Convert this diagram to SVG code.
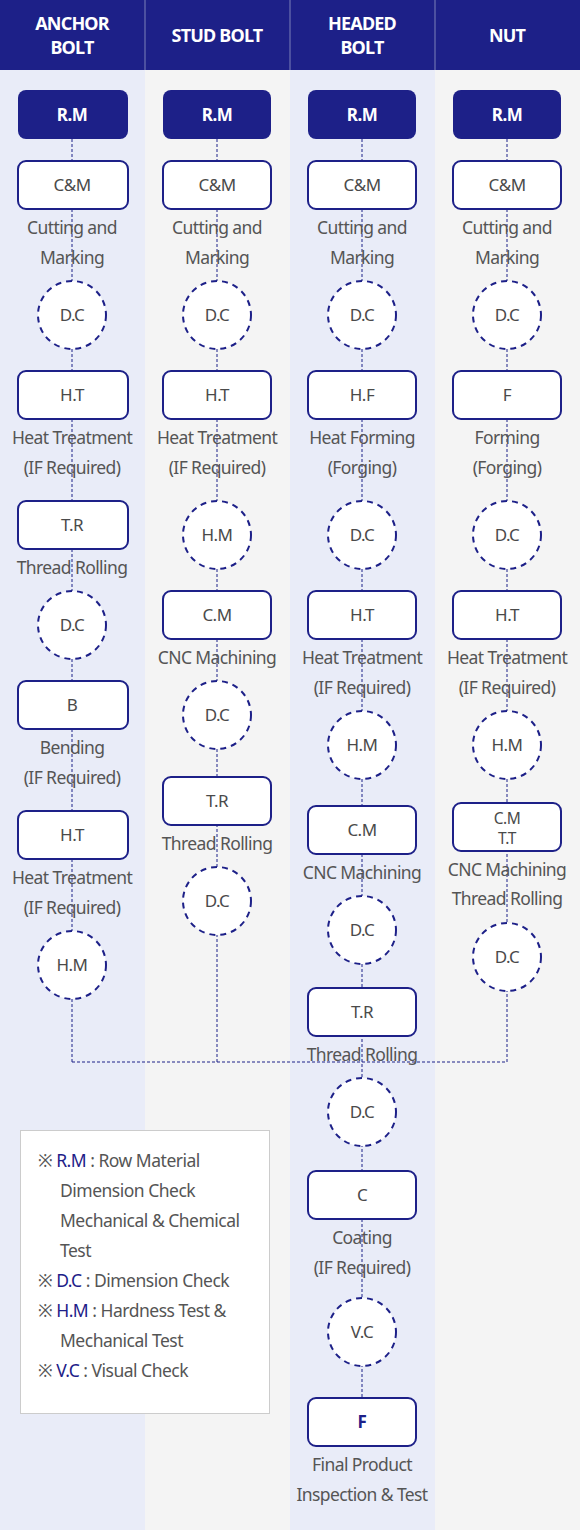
<svg xmlns="http://www.w3.org/2000/svg" width="580" height="1530" viewBox="0 0 580 1530">
<style>
.lab{font-family:"Noto Sans","Liberation Sans",sans-serif;font-size:17.5px;fill:#555;text-anchor:middle;letter-spacing:-0.6px}
.bt{font-family:"Noto Sans","Liberation Sans",sans-serif;font-size:17px;fill:#4a4a4a;text-anchor:middle;letter-spacing:-0.5px}
.bt2{font-family:"Noto Sans","Liberation Sans",sans-serif;font-size:15.5px;fill:#4a4a4a;text-anchor:middle;letter-spacing:-0.5px}
.rmt{font-family:"Noto Sans","Liberation Sans",sans-serif;font-size:17px;font-weight:bold;fill:#fff;text-anchor:middle;letter-spacing:-0.5px}
.ht{font-family:"Noto Sans","Liberation Sans",sans-serif;font-size:18px;font-weight:bold;fill:#fff;text-anchor:middle;letter-spacing:-0.8px}
.box{fill:#fff;stroke:#1d2088;stroke-width:2}
.rm{fill:#1d2088}
.dc{fill:#fff;stroke:#1d2088;stroke-width:2;stroke-dasharray:6 5}
.con{fill:none;stroke:#1d2088;stroke-width:1;stroke-dasharray:3 2}
.lg{font-family:"Noto Sans","Liberation Sans",sans-serif;font-size:17.5px;fill:#555;letter-spacing:-0.5px}
.lk{fill:#1d2088}
</style>
<rect x="0" y="0" width="145" height="1530" fill="#e9ecf8"/>
<rect x="145" y="0" width="145" height="1530" fill="#f4f4f4"/>
<rect x="290" y="0" width="145" height="1530" fill="#e9ecf8"/>
<rect x="435" y="0" width="145" height="1530" fill="#f4f4f4"/>
<g id="header">
<rect x="0" y="0" width="580" height="70" fill="#1d2088"/>
<line x1="145" y1="0" x2="145" y2="70" stroke="#7d80b8" stroke-width="1"/>
<line x1="290" y1="0" x2="290" y2="70" stroke="#7d80b8" stroke-width="1"/>
<line x1="435" y1="0" x2="435" y2="70" stroke="#7d80b8" stroke-width="1"/>
<text class="ht" x="72" y="30">ANCHOR</text>
<text class="ht" x="72" y="54">BOLT</text>
<text class="ht" x="217" y="42">STUD BOLT</text>
<text class="ht" x="362" y="30">HEADED</text>
<text class="ht" x="362" y="54">BOLT</text>
<text class="ht" x="507" y="42">NUT</text>
</g>
<g id="connectors">
<line class="con" x1="72" y1="139" x2="72" y2="1062"/>
<line class="con" x1="217" y1="139" x2="217" y2="1062"/>
<line class="con" x1="362" y1="139" x2="362" y2="1398"/>
<line class="con" x1="507" y1="139" x2="507" y2="1062"/>
<line class="con" x1="72" y1="1062" x2="507" y2="1062"/>
</g>
<!-- column 1 -->
<g id="a-rm"><rect class="rm" x="18" y="90" width="110" height="49" rx="8"/><text class="rmt" x="72" y="121">R.M</text></g>
<g id="a-cm"><rect class="box" x="18" y="161" width="110" height="48" rx="8"/><text class="bt" x="72" y="191">C&amp;M</text><text class="lab" x="72" y="234">Cutting and</text><text class="lab" x="72" y="264">Marking</text></g>
<g id="a-dc1"><circle class="dc" cx="72" cy="315" r="34"/><text class="bt" x="72" y="321">D.C</text></g>
<g id="a-ht1"><rect class="box" x="18" y="371" width="110" height="48" rx="8"/><text class="bt" x="72" y="401">H.T</text><text class="lab" x="72" y="444">Heat Treatment</text><text class="lab" x="72" y="474">(IF Required)</text></g>
<g id="a-tr"><rect class="box" x="18" y="501" width="110" height="48" rx="8"/><text class="bt" x="72" y="531">T.R</text><text class="lab" x="72" y="574">Thread Rolling</text></g>
<g id="a-dc2"><circle class="dc" cx="72" cy="625" r="34"/><text class="bt" x="72" y="631">D.C</text></g>
<g id="a-b"><rect class="box" x="18" y="681" width="110" height="48" rx="8"/><text class="bt" x="72" y="711">B</text><text class="lab" x="72" y="754">Bending</text><text class="lab" x="72" y="784">(IF Required)</text></g>
<g id="a-ht2"><rect class="box" x="18" y="811" width="110" height="48" rx="8"/><text class="bt" x="72" y="841">H.T</text><text class="lab" x="72" y="884">Heat Treatment</text><text class="lab" x="72" y="914">(IF Required)</text></g>
<g id="a-hm"><circle class="dc" cx="72" cy="965" r="34"/><text class="bt" x="72" y="971">H.M</text></g>
<!-- column 2 -->
<g id="s-rm"><rect class="rm" x="163" y="90" width="108" height="49" rx="8"/><text class="rmt" x="217" y="121">R.M</text></g>
<g id="s-cm"><rect class="box" x="163" y="161" width="108" height="48" rx="8"/><text class="bt" x="217" y="191">C&amp;M</text><text class="lab" x="217" y="234">Cutting and</text><text class="lab" x="217" y="264">Marking</text></g>
<g id="s-dc1"><circle class="dc" cx="217" cy="315" r="34"/><text class="bt" x="217" y="321">D.C</text></g>
<g id="s-ht"><rect class="box" x="163" y="371" width="108" height="48" rx="8"/><text class="bt" x="217" y="401">H.T</text><text class="lab" x="217" y="444">Heat Treatment</text><text class="lab" x="217" y="474">(IF Required)</text></g>
<g id="s-hm"><circle class="dc" cx="217" cy="535" r="34"/><text class="bt" x="217" y="541">H.M</text></g>
<g id="s-cmc"><rect class="box" x="163" y="591" width="108" height="48" rx="8"/><text class="bt" x="217" y="621">C.M</text><text class="lab" x="217" y="664">CNC Machining</text></g>
<g id="s-dc2"><circle class="dc" cx="217" cy="715" r="34"/><text class="bt" x="217" y="721">D.C</text></g>
<g id="s-tr"><rect class="box" x="163" y="777" width="108" height="48" rx="8"/><text class="bt" x="217" y="807">T.R</text><text class="lab" x="217" y="850">Thread Rolling</text></g>
<g id="s-dc3"><circle class="dc" cx="217" cy="901" r="34"/><text class="bt" x="217" y="907">D.C</text></g>
<!-- column 3 -->
<g id="h-rm"><rect class="rm" x="308" y="90" width="108" height="49" rx="8"/><text class="rmt" x="362" y="121">R.M</text></g>
<g id="h-cm"><rect class="box" x="308" y="161" width="108" height="48" rx="8"/><text class="bt" x="362" y="191">C&amp;M</text><text class="lab" x="362" y="234">Cutting and</text><text class="lab" x="362" y="264">Marking</text></g>
<g id="h-dc1"><circle class="dc" cx="362" cy="315" r="34"/><text class="bt" x="362" y="321">D.C</text></g>
<g id="h-hf"><rect class="box" x="308" y="371" width="108" height="48" rx="8"/><text class="bt" x="362" y="401">H.F</text><text class="lab" x="362" y="444">Heat Forming</text><text class="lab" x="362" y="474">(Forging)</text></g>
<g id="h-dc2"><circle class="dc" cx="362" cy="535" r="34"/><text class="bt" x="362" y="541">D.C</text></g>
<g id="h-ht"><rect class="box" x="308" y="591" width="108" height="48" rx="8"/><text class="bt" x="362" y="621">H.T</text><text class="lab" x="362" y="664">Heat Treatment</text><text class="lab" x="362" y="694">(IF Required)</text></g>
<g id="h-hm"><circle class="dc" cx="362" cy="745" r="34"/><text class="bt" x="362" y="751">H.M</text></g>
<g id="h-cmc"><rect class="box" x="308" y="806" width="108" height="48" rx="8"/><text class="bt" x="362" y="836">C.M</text><text class="lab" x="362" y="879">CNC Machining</text></g>
<g id="h-dc3"><circle class="dc" cx="362" cy="930" r="34"/><text class="bt" x="362" y="936">D.C</text></g>
<g id="h-tr"><rect class="box" x="308" y="988" width="108" height="48" rx="8"/><text class="bt" x="362" y="1018">T.R</text><text class="lab" x="362" y="1061">Thread Rolling</text></g>
<g id="h-dc4"><circle class="dc" cx="362" cy="1112" r="34"/><text class="bt" x="362" y="1118">D.C</text></g>
<g id="h-c"><rect class="box" x="308" y="1171" width="108" height="48" rx="8"/><text class="bt" x="362" y="1201">C</text><text class="lab" x="362" y="1244">Coating</text><text class="lab" x="362" y="1274">(IF Required)</text></g>
<g id="h-vc"><circle class="dc" cx="362" cy="1332" r="34"/><text class="bt" x="362" y="1338">V.C</text></g>
<g id="h-f"><rect class="box" x="308" y="1398" width="108" height="48" rx="8"/><text class="bt" x="362" y="1428" style="font-weight:bold;fill:#1d2088">F</text><text class="lab" x="362" y="1471">Final Product</text><text class="lab" x="362" y="1501">Inspection &amp; Test</text></g>
<!-- column 4 -->
<g id="n-rm"><rect class="rm" x="453" y="90" width="108" height="49" rx="8"/><text class="rmt" x="507" y="121">R.M</text></g>
<g id="n-cm"><rect class="box" x="453" y="161" width="108" height="48" rx="8"/><text class="bt" x="507" y="191">C&amp;M</text><text class="lab" x="507" y="234">Cutting and</text><text class="lab" x="507" y="264">Marking</text></g>
<g id="n-dc1"><circle class="dc" cx="507" cy="315" r="34"/><text class="bt" x="507" y="321">D.C</text></g>
<g id="n-f"><rect class="box" x="453" y="371" width="108" height="48" rx="8"/><text class="bt" x="507" y="401">F</text><text class="lab" x="507" y="444">Forming</text><text class="lab" x="507" y="474">(Forging)</text></g>
<g id="n-dc2"><circle class="dc" cx="507" cy="535" r="34"/><text class="bt" x="507" y="541">D.C</text></g>
<g id="n-ht"><rect class="box" x="453" y="591" width="108" height="48" rx="8"/><text class="bt" x="507" y="621">H.T</text><text class="lab" x="507" y="664">Heat Treatment</text><text class="lab" x="507" y="694">(IF Required)</text></g>
<g id="n-hm"><circle class="dc" cx="507" cy="745" r="34"/><text class="bt" x="507" y="751">H.M</text></g>
<g id="n-cmtt"><rect class="box" x="453" y="803" width="108" height="48" rx="8"/><text class="bt2" x="507" y="824">C.M</text><text class="bt2" x="507" y="844">T.T</text><text class="lab" x="507" y="876">CNC Machining</text><text class="lab" x="507" y="905">Thread Rolling</text></g>
<g id="n-dc3"><circle class="dc" cx="507" cy="957" r="34"/><text class="bt" x="507" y="963">D.C</text></g>
<g id="legend">
<rect x="20.5" y="1130.5" width="249" height="283" fill="#fff" stroke="#cccccc" stroke-width="1"/>
<text class="lg" x="38" y="1167">※ <tspan class="lk">R.M</tspan> : Row Material</text>
<text class="lg" x="60" y="1197">Dimension Check</text>
<text class="lg" x="60" y="1227">Mechanical &amp; Chemical</text>
<text class="lg" x="60" y="1257">Test</text>
<text class="lg" x="38" y="1287">※ <tspan class="lk">D.C</tspan> : Dimension Check</text>
<text class="lg" x="38" y="1317">※ <tspan class="lk">H.M</tspan> : Hardness Test &amp;</text>
<text class="lg" x="60" y="1347">Mechanical Test</text>
<text class="lg" x="38" y="1377">※ <tspan class="lk">V.C</tspan> : Visual Check</text>
</g>
</svg>
